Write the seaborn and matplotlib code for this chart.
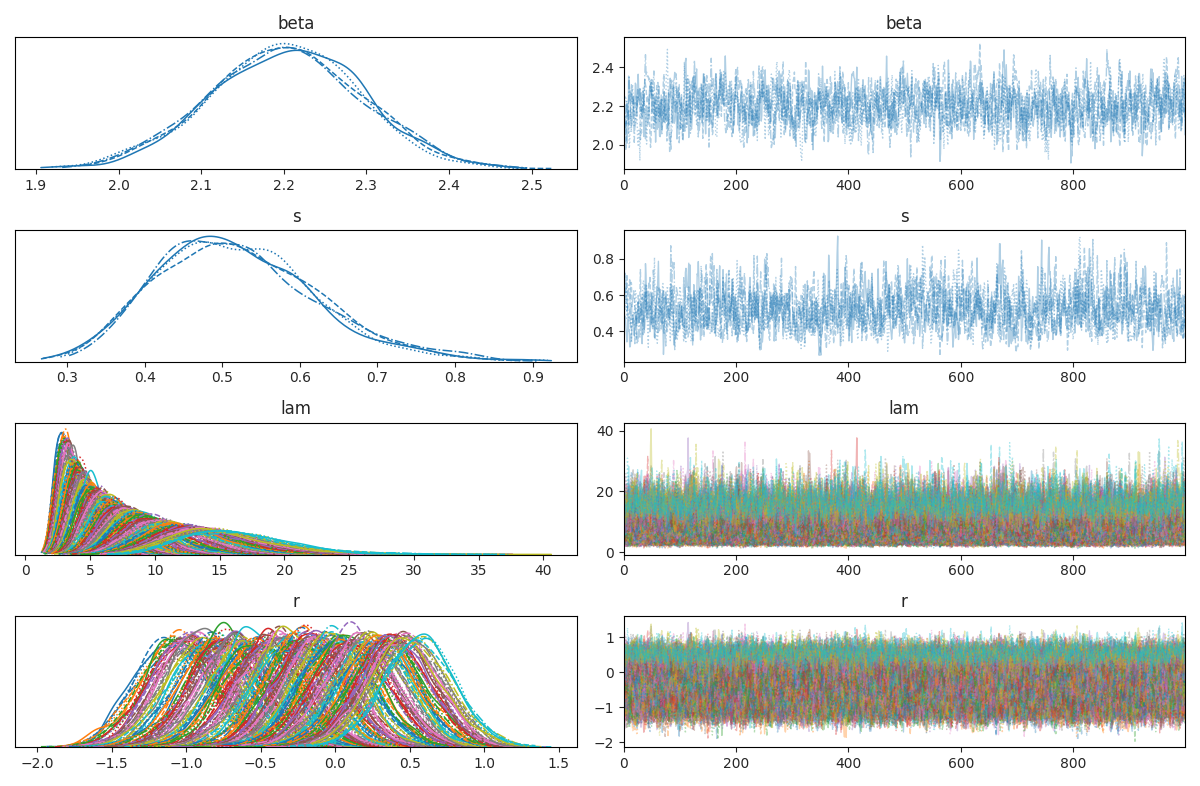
import numpy as np
import pandas as pd
import matplotlib
matplotlib.use("Agg")
import matplotlib.pyplot as plt
import seaborn as sns

# Summary values (posterior trace plot, 4 chains x 1000 draws)
var_names = ["beta", "s", "lam", "r"]
n_chains = 4
n_draws = 1000
chain_styles = ["-", "--", "-.", ":"]
beta_mean, beta_sd = 2.20, 0.09
s_mean, s_sd = 0.51, 0.10
# group effects r: centres spread from about -1.1 to 0.55
r_centres = np.linspace(-1.1, 0.55, 60)
r_sd = 0.24

# sampler-like chains (AR(1)); a trace plot cannot be read point-by-point
rng = np.random.default_rng(3)

def ar1(mean, sd, shape, phi=0.6):
    x = np.zeros(shape)
    e = rng.normal(0, sd * np.sqrt(1 - phi ** 2), shape)
    x[..., 0] = rng.normal(0, sd, shape[:-1])
    for t in range(1, shape[-1]):
        x[..., t] = phi * x[..., t - 1] + e[..., t]
    return x + mean

beta = ar1(beta_mean, beta_sd, (n_chains, n_draws))
s = np.exp(ar1(np.log(s_mean), s_sd / s_mean, (n_chains, n_draws)))
r = ar1(r_centres[None, :, None], r_sd, (n_chains, len(r_centres), n_draws))
lam = np.exp(beta[:, None, :] + r)

sns.set_style("white")
pal = sns.color_palette("tab10")
fig, axes = plt.subplots(4, 2, figsize=(12, 7.86), dpi=100)

def draw(ax_k, ax_t, data, title, multi):
    # data: chains x comps x draws
    for j in range(data.shape[1]):
        col = pal[j % 10] if multi else pal[0]
        for c in range(n_chains):
            sns.kdeplot(x=data[c, j], ax=ax_k, color=col, linestyle=chain_styles[c],
                        lw=1.1, cut=0, bw_adjust=1.0)
            ax_t.plot(np.arange(n_draws), data[c, j], color=col,
                      linestyle=chain_styles[c], lw=1, alpha=0.35)
    ax_k.set_title(title)
    ax_t.set_title(title)
    ax_k.set_yticks([])
    ax_k.set_ylabel("")
    ax_t.set_xlim(0, n_draws - 1)
    ax_t.set_xticks([0, 200, 400, 600, 800])

draw(axes[0, 0], axes[0, 1], beta[:, None, :], "beta", False)
draw(axes[1, 0], axes[1, 1], s[:, None, :], "s", False)
draw(axes[2, 0], axes[2, 1], lam, "lam", True)
draw(axes[3, 0], axes[3, 1], r, "r", True)
for ax in axes.flat:
    for sp in ax.spines.values():
        sp.set_color("black")
        sp.set_linewidth(0.8)
    ax.tick_params(left=True, bottom=True, length=3.5)
for i in range(4):
    axes[i, 0].tick_params(left=False)

plt.tight_layout()
fig.savefig("out.png", dpi=100)
